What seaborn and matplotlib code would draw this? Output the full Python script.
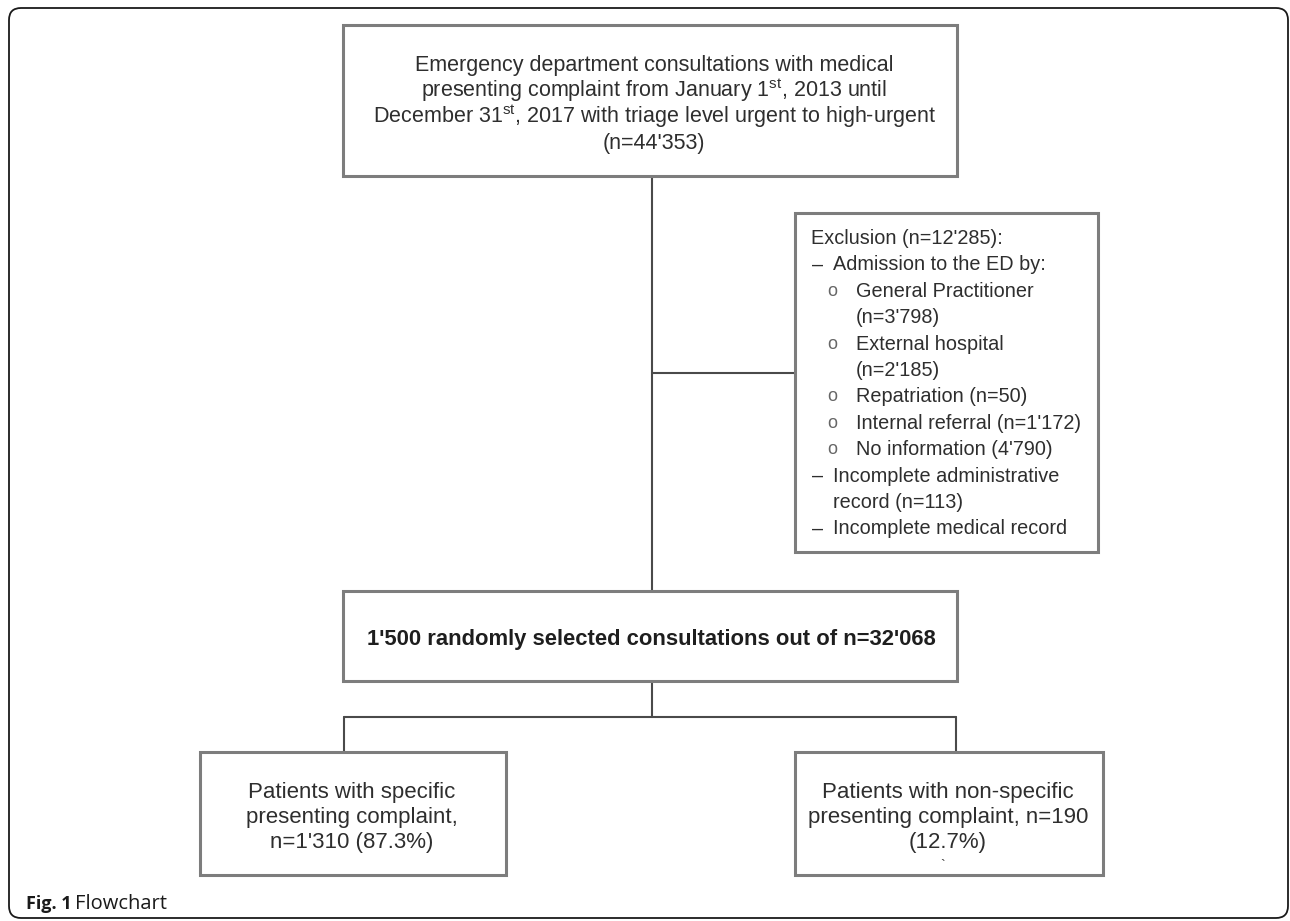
import matplotlib
matplotlib.use("Agg")
import matplotlib.pyplot as plt
from matplotlib.patches import FancyBboxPatch, Rectangle
import seaborn as sns

# flowchart content
top_lines = [
    "Emergency department consultations with medical",
    "presenting complaint from January 1$^{\\mathrm{st}}$, 2013 until",
    "December 31$^{\\mathrm{st}}$, 2017 with triage level urgent to high-urgent",
    "(n=44'353)",
]
excl_levels = [0, 1, 2, 2, 2, 2, 2, 2, 2, 1, 1, 1]
excl_bullets = ["", "–", "o", "", "o", "", "o", "o", "o", "–", "", "–"]
excl_texts = [
    "Exclusion (n=12'285):",
    "Admission to the ED by:",
    "General Practitioner",
    "(n=3'798)",
    "External hospital",
    "(n=2'185)",
    "Repatriation (n=50)",
    "Internal referral (n=1'172)",
    "No information (4'790)",
    "Incomplete administrative",
    "record (n=113)",
    "Incomplete medical record",
]
middle_text = "1'500 randomly selected consultations out of n=32'068"
left_lines = ["Patients with specific", "presenting complaint,", "n=1'310 (87.3%)"]
right_lines = ["Patients with non-specific", "presenting complaint, n=190", "(12.7%)"]
caption_bold = "Fig. 1"
caption_text = "Flowchart"

sns.set_theme(style="white")
plt.rcParams['font.family'] = ['Liberation Sans', 'DejaVu Sans']
plt.rcParams['mathtext.fontset'] = 'custom'
plt.rcParams['mathtext.rm'] = 'Liberation Sans'
plt.rcParams['mathtext.it'] = 'Liberation Sans:italic'
plt.rcParams['mathtext.bf'] = 'Liberation Sans:bold'

fig = plt.figure(figsize=(12.9, 9.21), dpi=100)
ax = fig.add_axes([0, 0, 1, 1])
ax.set_xlim(0, 1290)
ax.set_ylim(921, 0)
ax.axis('off')

txt_col = '#2e2e2e'
box_col = '#7d7d7d'
line_col = '#4a4a4a'
fs = 14.3

# outer frame
ax.add_patch(FancyBboxPatch((9, 8), 1279, 910, boxstyle="round,pad=0,rounding_size=12",
                            fill=False, ec='#1a1a1a', lw=1.3))


def box(x0, y0, x1, y1):
    ax.add_patch(Rectangle((x0, y0), x1 - x0, y1 - y0, fill=True, fc='white',
                           ec=box_col, lw=2.2, zorder=2))


# boxes
box(343, 25, 957, 176)
box(795, 213, 1098, 552)
box(343, 591, 957, 681)
box(200, 752, 506, 875)
box(795, 752, 1103, 875)

# connectors
ax.plot([652, 652], [176, 591], color=line_col, lw=1.5, zorder=1)
ax.plot([652, 795], [373, 373], color=line_col, lw=1.5, zorder=1)
ax.plot([652, 652], [681, 717], color=line_col, lw=1.5, zorder=1)
ax.plot([344, 956], [717, 717], color=line_col, lw=1.5, zorder=1)
ax.plot([344, 344], [717, 752], color=line_col, lw=1.5, zorder=1)
ax.plot([956, 956], [717, 752], color=line_col, lw=1.5, zorder=1)

# top box text
for i, t in enumerate(top_lines):
    ax.text(654, 63 + 26 * i + 7.5, t, ha='center', va='baseline', fontsize=15.5,
            color=txt_col, zorder=3)

# exclusion box text
bullet_x = {1: 812, 2: 832}
text_x = {0: 811, 1: 833, 2: 856}
for i, (lv, b, t) in enumerate(zip(excl_levels, excl_bullets, excl_texts)):
    y = 237 + 26.4 * i + 7
    if b == "o":
        ax.text(bullet_x[lv], y - 1, b, ha='center', va='baseline', fontsize=13,
                color='#666666', zorder=3)
    elif b:
        ax.text(bullet_x[lv], y, b, ha='left', va='baseline', fontsize=fs,
                color=txt_col, zorder=3)
    ax.text(text_x[lv], y, t, ha='left', va='baseline', fontsize=fs,
            color=txt_col, zorder=3)

# middle box text
ax.text(651, 637 + 7.5, middle_text, ha='center', va='baseline', fontsize=15.8,
        fontweight='bold', color='#1e1e1e', zorder=3)

# bottom boxes
for i, t in enumerate(left_lines):
    ax.text(352, 790 + 25 * i + 7.5, t, ha='center', va='baseline', fontsize=16,
            color=txt_col, zorder=3)
for i, t in enumerate(right_lines):
    ax.text(948, 790 + 25 * i + 7.5, t, ha='center', va='baseline', fontsize=16,
            color=txt_col, zorder=3)
ax.text(943, 870, "`", ha='center', va='baseline', fontsize=10, color=txt_col, zorder=3)

# caption
ax.text(26, 909, caption_bold, ha='left', va='baseline', fontsize=13,
        fontweight='bold', family=['Open Sans', 'DejaVu Sans'], color='#1a1a1a')
ax.text(75, 909, caption_text, ha='left', va='baseline', fontsize=14.5,
        family=['Open Sans', 'DejaVu Sans'], color='#1a1a1a')

fig.savefig('out.png', dpi=100, facecolor='white')
